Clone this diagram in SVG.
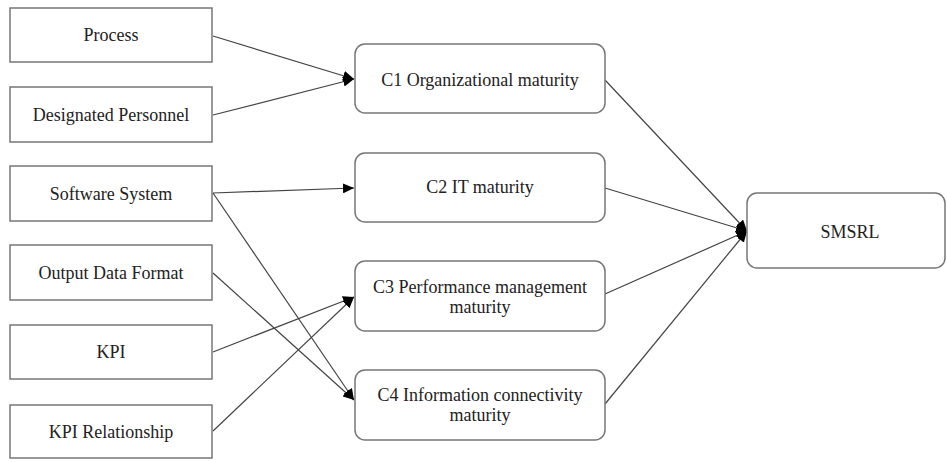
<svg xmlns="http://www.w3.org/2000/svg" width="947" height="462" viewBox="0 0 947 462">
<defs>
<marker id="arr" markerUnits="userSpaceOnUse" markerWidth="12" markerHeight="10" refX="11" refY="5" orient="auto">
<path d="M0,0 L11,5 L0,10 Z" fill="#000"/>
</marker>
<style>
.box{fill:#fff;stroke:#777;stroke-width:1.5}
.t{font-family:"Liberation Serif","Times New Roman",serif;font-size:18px;fill:#222;text-anchor:middle;dominant-baseline:central}
.c{stroke:#444;stroke-width:1.2;fill:none;marker-end:url(#arr)}
</style>
</defs>
<rect width="947" height="462" fill="#fff"/>
<g id="connectors">
<line class="c" x1="213" y1="36" x2="354" y2="79"/>
<line class="c" x1="213" y1="115" x2="354" y2="79"/>
<line class="c" x1="213" y1="193" x2="354" y2="188"/>
<line class="c" x1="213" y1="193" x2="354" y2="400"/>
<line class="c" x1="213" y1="273" x2="354" y2="400"/>
<line class="c" x1="213" y1="352" x2="354" y2="297"/>
<line class="c" x1="213" y1="431" x2="354" y2="297"/>
<line class="c" x1="605" y1="80" x2="747" y2="231"/>
<line class="c" x1="605" y1="188" x2="747" y2="231"/>
<line class="c" x1="605" y1="294" x2="747" y2="231"/>
<line class="c" x1="605" y1="404" x2="747" y2="231"/>
</g>
<g id="process"><rect class="box" x="10" y="8" width="202" height="54"/><text class="t" x="111" y="35">Process</text></g>
<g id="designated-personnel"><rect class="box" x="10" y="87" width="202" height="55"/><text class="t" x="111" y="115">Designated Personnel</text></g>
<g id="software-system"><rect class="box" x="10" y="166" width="202" height="55"/><text class="t" x="111" y="194">Software System</text></g>
<g id="output-data-format"><rect class="box" x="10" y="245" width="202" height="55"/><text class="t" x="111" y="273">Output Data Format</text></g>
<g id="kpi"><rect class="box" x="10" y="325" width="202" height="54"/><text class="t" x="111" y="352">KPI</text></g>
<g id="kpi-relationship"><rect class="box" x="10" y="405" width="202" height="53"/><text class="t" x="111" y="432">KPI Relationship</text></g>
<g id="c1"><rect class="box" x="355" y="44" width="250" height="69" rx="10"/><text class="t" x="480" y="80">C1 Organizational maturity</text></g>
<g id="c2"><rect class="box" x="355" y="153" width="250" height="69" rx="10"/><text class="t" x="480" y="187">C2 IT maturity</text></g>
<g id="c3"><rect class="box" x="355" y="261" width="250" height="70" rx="10"/><text class="t" x="480" y="287">C3 Performance management</text><text class="t" x="480" y="307">maturity</text></g>
<g id="c4"><rect class="box" x="355" y="370" width="250" height="70" rx="10"/><text class="t" x="480" y="395">C4 Information connectivity</text><text class="t" x="480" y="415">maturity</text></g>
<g id="smsrl"><rect class="box" x="747" y="193" width="198" height="75" rx="10"/><text class="t" x="850" y="232">SMSRL</text></g>
</svg>
